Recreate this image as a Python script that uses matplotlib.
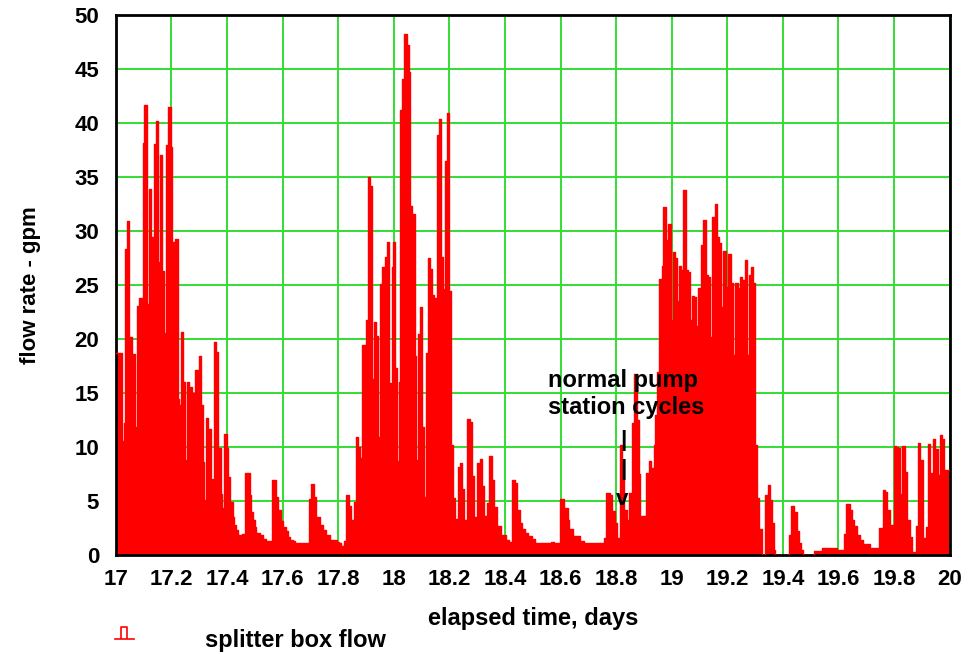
import numpy as np
import matplotlib
matplotlib.use("Agg")
import matplotlib.pyplot as plt
from matplotlib.lines import Line2D
from matplotlib.path import Path

# elapsed time (days) where each level starts, and the flow (gpm) held until the next time
dias = [17.000, 17.022, 17.028, 17.034, 17.040, 17.048, 17.058, 17.061, 17.070, 17.077,
        17.084, 17.097, 17.103, 17.112, 17.118, 17.127, 17.133, 17.139, 17.145, 17.153,
        17.159, 17.168, 17.174, 17.180, 17.189, 17.197, 17.203, 17.207, 17.213, 17.223,
        17.229, 17.235, 17.243, 17.249, 17.255, 17.265, 17.273, 17.277, 17.285, 17.295,
        17.300, 17.307, 17.312, 17.319, 17.325, 17.333, 17.341, 17.348, 17.353, 17.362,
        17.369, 17.377, 17.381, 17.388, 17.400, 17.405, 17.412, 17.420, 17.427, 17.434,
        17.441, 17.453, 17.465, 17.482, 17.488, 17.494, 17.500, 17.506, 17.518, 17.530,
        17.540, 17.561, 17.578, 17.585, 17.596, 17.602, 17.612, 17.620, 17.628, 17.638,
        17.644, 17.695, 17.701, 17.712, 17.722, 17.734, 17.746, 17.758, 17.770, 17.796,
        17.803, 17.812, 17.821, 17.827, 17.839, 17.848, 17.856, 17.865, 17.871, 17.880,
        17.886, 17.895, 17.901, 17.908, 17.913, 17.922, 17.928, 17.937, 17.944, 17.949,
        17.956, 17.964, 17.968, 17.976, 17.984, 17.992, 17.998, 18.006, 18.013, 18.018,
        18.024, 18.030, 18.038, 18.046, 18.054, 18.060, 18.066, 18.075, 18.081, 18.086,
        18.093, 18.102, 18.109, 18.116, 18.123, 18.129, 18.138, 18.145, 18.150, 18.156,
        18.164, 18.171, 18.178, 18.183, 18.192, 18.198, 18.205, 18.212, 18.219, 18.226,
        18.232, 18.240, 18.246, 18.252, 18.264, 18.274, 18.280, 18.289, 18.301, 18.309,
        18.317, 18.323, 18.336, 18.342, 18.354, 18.360, 18.373, 18.385, 18.404, 18.416,
        18.425, 18.435, 18.444, 18.453, 18.463, 18.472, 18.484, 18.496, 18.509, 18.564,
        18.577, 18.599, 18.614, 18.626, 18.632, 18.645, 18.669, 18.684, 18.756, 18.764,
        18.778, 18.787, 18.795, 18.805, 18.815, 18.823, 18.830, 18.839, 18.845, 18.856,
        18.866, 18.874, 18.881, 18.887, 18.907, 18.917, 18.925, 18.935, 18.941, 18.947,
        18.954, 18.962, 18.966, 18.970, 18.979, 18.988, 18.996, 19.002, 19.004, 19.011,
        19.020, 19.025, 19.033, 19.042, 19.050, 19.057, 19.065, 19.069, 19.073, 19.080,
        19.089, 19.095, 19.105, 19.113, 19.123, 19.129, 19.137, 19.145, 19.155, 19.163,
        19.170, 19.178, 19.184, 19.196, 19.202, 19.212, 19.220, 19.228, 19.238, 19.246,
        19.253, 19.262, 19.270, 19.277, 19.286, 19.292, 19.300, 19.307, 19.315, 19.324,
        19.337, 19.345, 19.354, 19.360, 19.368, 19.372, 19.423, 19.431, 19.440, 19.450,
        19.458, 19.467, 19.474, 19.512, 19.542, 19.595, 19.621, 19.628, 19.640, 19.649,
        19.657, 19.667, 19.678, 19.690, 19.714, 19.747, 19.759, 19.768, 19.776, 19.786,
        19.795, 19.801, 19.807, 19.815, 19.821, 19.830, 19.840, 19.847, 19.857, 19.863,
        19.878, 19.887, 19.895, 19.905, 19.914, 19.922, 19.931, 19.940, 19.949, 19.958,
        19.966, 19.974, 19.978, 19.996]

caudal = [18.7, 10.6, 12.2, 28.3, 30.9, 20.2, 17.2, 18.6, 11.9, 23.1,
          23.8, 38.2, 41.7, 23.3, 33.9, 29.5, 23.4, 38.1, 40.2, 27.1,
          37.0, 26.3, 20.6, 38.0, 41.5, 37.8, 23.8, 29.0, 29.3, 14.5,
          13.9, 20.7, 16.0, 8.8, 16.0, 15.6, 8.6, 15.0, 17.1, 12.5,
          18.4, 13.9, 8.6, 5.1, 12.7, 11.7, 7.1, 3.7, 19.7, 18.8,
          9.9, 5.7, 4.4, 11.2, 9.9, 7.2, 4.9, 3.5, 2.8, 2.3,
          1.9, 2.0, 7.6, 5.6, 4.0, 3.3, 2.6, 2.1, 1.85, 1.5,
          1.3, 7.0, 5.4, 4.2, 3.2, 2.6, 2.2, 1.7, 1.4, 1.3,
          1.1, 5.2, 6.6, 5.4, 3.5, 2.8, 2.3, 1.9, 1.4, 1.2,
          1.1, 0.9, 1.3, 5.6, 4.6, 3.3, 4.9, 10.9, 10.0, 9.0,
          19.5, 16.8, 21.8, 35.0, 34.2, 16.3, 21.6, 20.3, 10.9, 25.1,
          26.7, 15.9, 27.6, 29.0, 15.9, 26.7, 29.0, 17.3, 8.7, 16.0,
          41.2, 44.1, 48.2, 47.2, 44.7, 32.3, 31.6, 18.4, 8.8, 20.5,
          23.0, 11.9, 5.4, 18.7, 27.5, 26.5, 24.1, 11.9, 23.8, 38.9,
          40.4, 27.6, 24.6, 36.5, 40.9, 24.5, 10.2, 5.3, 3.4, 2.3,
          8.2, 8.5, 6.1, 3.3, 12.6, 12.3, 7.3, 3.5, 8.5, 8.9,
          6.4, 3.6, 4.8, 9.2, 7.0, 4.5, 2.7, 1.9, 1.4, 1.2,
          7.0, 6.7, 4.2, 3.0, 2.4, 2.1, 1.8, 1.5, 1.1, 1.2,
          1.1, 5.2, 4.4, 3.3, 2.4, 1.8, 1.3, 1.1, 1.6, 5.8,
          5.6, 4.1, 3.0, 1.6, 10.2, 7.0, 4.2, 3.3, 5.8, 12.2,
          16.8, 12.5, 7.5, 3.6, 7.6, 8.7, 8.1, 10.2, 13.0, 17.0,
          25.6, 17.6, 26.8, 32.2, 29.2, 30.7, 21.8, 18.4, 28.1, 27.5,
          23.5, 26.8, 26.4, 33.8, 26.4, 26.2, 21.8, 17.9, 24.0, 23.9,
          21.2, 24.7, 28.7, 31.0, 25.9, 25.8, 20.2, 31.3, 32.5, 29.5,
          28.9, 23.0, 28.2, 24.8, 27.9, 25.2, 18.5, 25.2, 24.7, 25.8,
          25.5, 27.3, 18.5, 25.9, 26.7, 25.2, 10.2, 5.3, 2.4, 0.0,
          5.6, 6.5, 5.1, 3.0, 0.5, 0.0, 1.9, 4.6, 4.0, 2.2,
          1.1, 0.5, 0.0, 0.4, 0.7, 0.5, 2.0, 4.7, 4.2, 3.3,
          2.7, 1.9, 1.4, 1.0, 0.7, 2.5, 6.0, 5.9, 4.2, 2.8,
          1.9, 10.1, 10.0, 9.9, 5.7, 10.1, 7.7, 3.3, 1.7, 0.3,
          2.7, 10.4, 8.8, 1.6, 2.6, 10.3, 7.6, 10.8, 9.8, 7.4,
          11.1, 10.8, 7.9, 7.9]

ticks_x = [17, 17.2, 17.4, 17.6, 17.8, 18, 18.2, 18.4, 18.6, 18.8,
           19, 19.2, 19.4, 19.6, 19.8, 20]
ticks_y = [0, 5, 10, 15, 20, 25, 30, 35, 40, 45, 50]

plt.rcParams['font.family'] = ['Liberation Sans', 'DejaVu Sans']
plt.rcParams['font.weight'] = 'bold'

fig = plt.figure(figsize=(9.73, 6.54), dpi=100)
ax = fig.add_axes([0.119, 0.151, 0.857, 0.826])

ax.fill_between(dias, caudal, step='post', color='red', lw=0, zorder=2)
ax.step(dias, caudal, where='post', color='red', lw=1, zorder=3)

ax.set_xlim(17, 20)
ax.set_ylim(0, 50)
ax.set_xticks(ticks_x)
ax.set_xticklabels([f"{v:g}" for v in ticks_x])
ax.set_yticks(ticks_y)
ax.grid(True, color='#33dd33', lw=1.4)
ax.set_axisbelow(True)
ax.tick_params(axis='x', direction='in', length=3, color='#33dd33', pad=10, labelsize=16)
ax.tick_params(axis='y', length=0, pad=12, labelsize=16)
for lab in ax.get_xticklabels() + ax.get_yticklabels():
    lab.set_fontweight('bold')
for s in ax.spines.values():
    s.set_linewidth(2)
    s.set_color('black')

ax.set_xlabel("elapsed time, days", fontsize=17, fontweight='bold', labelpad=12)
ax.set_ylabel("flow rate - gpm", fontsize=16, fontweight='bold', labelpad=24)

# annotation
ax.text(18.554, 15.55, "normal pump", fontsize=17, fontweight='bold', ha='left', va='baseline')
ax.text(18.554, 13.1, "station cycles", fontsize=17, fontweight='bold', ha='left', va='baseline')
ax.text(18.827, 10.65, "|", fontsize=16, fontweight='bold', ha='center', va='center')
ax.text(18.827, 7.96, "|", fontsize=16, fontweight='bold', ha='center', va='center')
ax.text(18.822, 5.14, "v", fontsize=16, fontweight='bold', ha='center', va='center')

# legend below the axes
pulso = Path([(-0.25, 0), (-0.25, 1), (0.25, 1), (0.25, 0)])
h = Line2D([], [], color='red', lw=1.2, marker=pulso, markersize=17,
           markerfacecolor='none', markeredgecolor='red', markeredgewidth=1.2)
fig.legend(handles=[h], labels=["splitter box flow"], loc='center left',
           bbox_to_anchor=(0.118, 0.021), frameon=False, borderpad=0,
           borderaxespad=0, handlelength=0.8, handletextpad=3.0,
           prop={'size': 17, 'weight': 'bold'})

fig.savefig("out.png", dpi=100)
